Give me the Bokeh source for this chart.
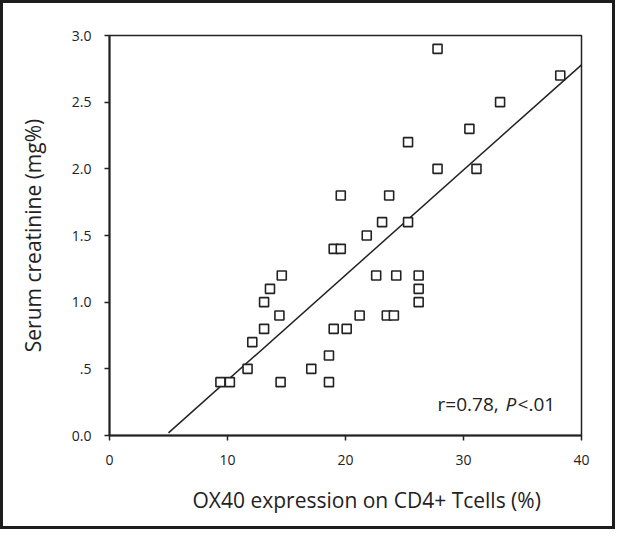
from bokeh.plotting import figure
from bokeh.models import Range1d, FixedTicker, Label, Title
from bokeh.embed import file_html
from bokeh.resources import INLINE

# ---- data ----
ox40 = [27.8, 38.2, 33.1, 30.5, 25.3, 27.8, 31.1, 19.6, 23.7, 23.1, 25.3, 21.8,
        19.0, 19.6, 14.6, 22.6, 24.3, 26.2, 26.2, 13.6, 13.1, 26.2, 14.4, 21.2,
        23.5, 24.1, 13.1, 19.0, 20.1, 12.1, 18.6, 11.7, 17.1, 9.4, 10.2, 14.5, 18.6]
creatinine = [2.9, 2.7, 2.5, 2.3, 2.2, 2.0, 2.0, 1.8, 1.8, 1.6, 1.6, 1.5,
              1.4, 1.4, 1.2, 1.2, 1.2, 1.2, 1.1, 1.1, 1.0, 1.0, 0.9, 0.9,
              0.9, 0.9, 0.8, 0.8, 0.8, 0.7, 0.6, 0.5, 0.5, 0.4, 0.4, 0.4, 0.4]
fit_x = [5.0, 40.0]
fit_y = [0.02, 2.78]
xticks = [0, 10, 20, 30, 40]
yticks = [0, 0.5, 1.0, 1.5, 2.0, 2.5, 3.0]
ytick_labels = ["0.0", ".5", "1.0", "1.5", "2.0", "2.5", "3.0"]
x_title = "OX40 expression on CD4+ Tcells (%)"
y_title = "Serum creatinine (mg%)"
stat_parts = ["r=0.78,", "P", "<.01"]

FONT = "Open Sans"
INK = "#222222"

p = figure(width=615, height=529, output_backend="svg", toolbar_location=None,
           x_range=Range1d(0, 40), y_range=Range1d(0, 3.0),
           min_border_left=106, min_border_right=37, min_border_top=32, min_border_bottom=97,
           background_fill_color="white", border_fill_color="white")
p.styles = {"border": "3px solid #1c1c1c"}

p.xgrid.visible = False
p.ygrid.visible = False
p.outline_line_color = INK
p.outline_line_width = 1.5

for ax in (p.xaxis[0], p.yaxis[0]):
    ax.axis_line_color = INK
    ax.axis_line_width = 2
    ax.major_tick_line_color = INK
    ax.major_tick_line_width = 1.5
    ax.major_tick_out = 5
    ax.major_tick_in = 0
    ax.minor_tick_line_color = None
    ax.major_label_text_font = FONT
    ax.major_label_text_font_size = "14px"
    ax.major_label_text_color = INK
    ax.axis_label_text_font = FONT
    ax.axis_label_text_font_size = "21px"
    ax.axis_label_text_font_style = "normal"
    ax.axis_label_text_color = INK

p.xaxis[0].ticker = FixedTicker(ticks=xticks)
p.yaxis[0].ticker = FixedTicker(ticks=yticks)
p.yaxis[0].major_label_overrides = dict(zip(yticks, ytick_labels))
p.yaxis[0].axis_label = y_title
p.xaxis[0].major_label_standoff = 14
p.yaxis[0].major_label_standoff = 13
p.yaxis[0].axis_label_standoff = 22

# x-axis title, set right of centre as in the original
p.add_layout(Title(text=x_title, align="left", offset=83, standoff=33,
                   text_font=FONT, text_font_size="21px", text_font_style="normal",
                   text_color=INK), "below")

p.line(fit_x, fit_y, line_color=INK, line_width=1.5)
p.scatter(ox40, creatinine, marker="square", size=9, fill_color="white",
          line_color=INK, line_width=1.6)

offsets = [0, 68, 80]
styles = ["normal", "italic", "normal"]
for txt, off, st in zip(stat_parts, offsets, styles):
    p.add_layout(Label(x=27.8, y=0.24, text=txt, x_offset=off,
                       text_font=FONT, text_font_size="19px", text_font_style=st,
                       text_color=INK, text_baseline="alphabetic", text_align="left"))

open("out.html", "w").write(file_html(p, INLINE))
